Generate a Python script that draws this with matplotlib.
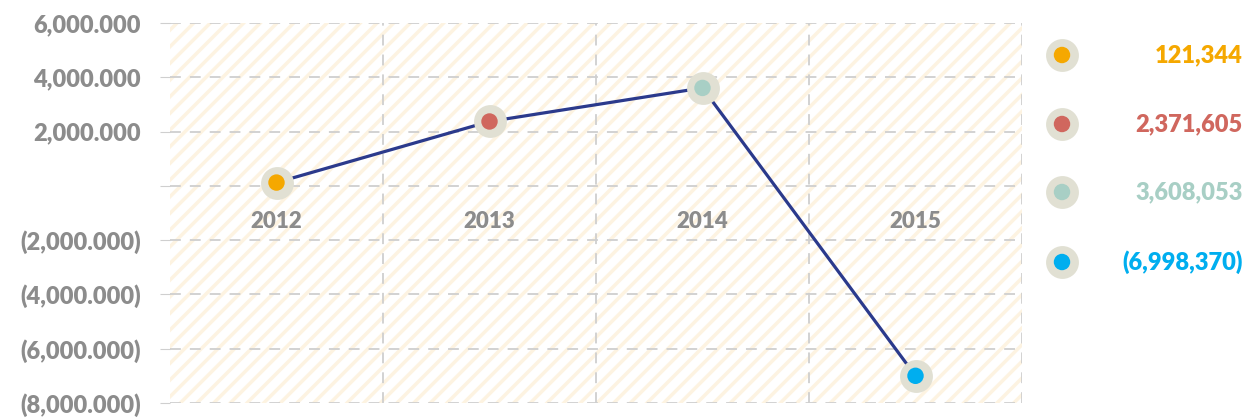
import matplotlib.pyplot as plt
from matplotlib.patches import Rectangle

plt.rcParams['font.family'] = ['Lato', 'DejaVu Sans']
plt.rcParams['hatch.linewidth'] = 2.5
plt.rcParams['hatch.color'] = '#FDF3E1'

# data
years = ['2012', '2013', '2014', '2015']
values = [121344, 2371605, 3608053, -6998370]
value_labels = ['121,344', '2,371,605', '3,608,053', '(6,998,370)']
point_colors = ['#F5A800', '#D0675E', '#A8CFC5', '#00AEEF']
y_ticks = [6000000, 4000000, 2000000, 0, -2000000, -4000000, -6000000, -8000000]
y_tick_labels = ['6,000.000', '4,000.000', '2,000.000', '', '(2,000.000)',
                 '(4,000.000)', '(6,000.000)', '(8,000.000)']

fig = plt.figure(figsize=(12.45, 4.2), dpi=100)
ax = fig.add_axes([170 / 1245, 17 / 420, 852 / 1245, 380 / 420])

x = list(range(len(years)))
ax.set_xlim(-0.5, len(years) - 0.5)
ax.set_ylim(-8000000, 6000000)

# hatched background
ax.add_patch(Rectangle((0, 0), 1, 1, transform=ax.transAxes, facecolor='white',
                       edgecolor='#FDF3E1', hatch='//', linewidth=0, zorder=0))

# grid
for t in y_ticks:
    ax.axhline(t, color='#CFCFCF', lw=1.3, ls=(0, (6, 5)), zorder=1)
for b in [0.5, 1.5, 2.5, 3.5]:
    ax.axvline(b, color='#CFCFCF', lw=1.3, ls=(0, (6, 5)), zorder=1)

ax.plot(x, values, color='#2B3A8C', lw=2.3, zorder=2)
ax.scatter(x, values, s=560, color='#E1E0D3', zorder=3, linewidths=0)
ax.scatter(x, values, s=140, color=point_colors, zorder=4, linewidths=0)

# category labels just below the zero line
for xi, yr in zip(x, years):
    ax.text(xi, -1300000, yr, ha='center', va='center', fontsize=16,
            fontweight=800, color='#8C8C8C', zorder=5)

ax.set_xticks([])
ax.set_yticks(y_ticks)
ax.set_yticklabels(y_tick_labels, fontsize=17, fontweight=800, color='#8C8C8C')
ax.tick_params(axis='y', length=7, color='#CFCFCF', pad=14)
for s in ax.spines.values():
    s.set_visible(False)

# value list on the right
leg_y = [55, 124, 192, 262]
for yy, lab, c in zip(leg_y, value_labels, point_colors):
    fig.text(1243 / 1245, 1 - yy / 420, lab, ha='right', va='center', fontsize=17,
             fontweight=800, color=c)
lax = fig.add_axes([0, 0, 1, 1], facecolor='none')
lax.set_xlim(0, 1245)
lax.set_ylim(420, 0)
lax.axis('off')
lax.scatter([1062] * 4, leg_y, s=560, color='#E1E0D3', linewidths=0)
lax.scatter([1062] * 4, leg_y, s=140, color=point_colors, linewidths=0)

fig.savefig('out.png', dpi=100)
